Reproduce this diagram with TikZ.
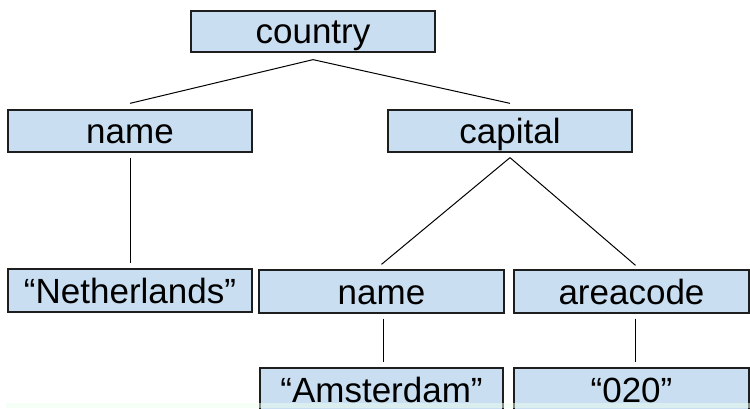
\documentclass[tikz,border=0pt]{standalone}
\usepackage{fontspec}
\setmainfont{Liberation Sans}
\usetikzlibrary{calc}
\definecolor{boxfill}{RGB}{201,222,241}
\definecolor{boxline}{RGB}{30,30,30}
\definecolor{stripgreen}{RGB}{236,255,238}
\begin{document}
\begin{tikzpicture}[x=1pt,y=1pt,
  treebox/.style={draw=boxline, line width=1.3pt, fill=boxfill, inner sep=0pt,
    minimum height=42pt, text height=25pt, text depth=0pt,
    font=\fontsize{35}{42}\selectfont},
  edge/.style={draw=black, line width=1pt}]
\clip (0,0) rectangle (750,408);
\fill[white] (0,0) rectangle (750,408);
\node[treebox, minimum width=244pt, minimum height=41pt] (country) at (313,376.5) {country};
\node[treebox, minimum width=244pt] (name1) at (130,277) {name};
\node[treebox, minimum width=244pt] (capital) at (510,277) {capital};
\node[treebox, minimum width=244pt, minimum height=43pt] (neth) at (130,117.5) {“Netherlands”};
\node[treebox, minimum width=245pt, minimum height=43pt] (name2) at (381.5,116.5) {name};
\node[treebox, minimum width=235pt, minimum height=43pt] (area) at (631.5,116.5) {areacode};
\node[treebox, minimum width=243pt, minimum height=43pt] (amst) at (381.5,18.5) {“Amsterdam”};
\node[treebox, minimum width=235pt, minimum height=43pt] (code) at (631.5,18.5) {“020”};
\draw[edge] ($(country.south)+(0,-7)$) -- ($(name1.north)+(0,6)$);
\draw[edge] ($(country.south)+(0,-7)$) -- ($(capital.north)+(0,6)$);
\draw[edge] ($(name1.south)+(0,-5)$) -- ($(neth.north)+(0,5)$);
\draw[edge] ($(capital.south)+(0,-5)$) -- ($(name2.north)+(0,5)$);
\draw[edge] ($(capital.south)+(0,-5)$) -- ($(area.north)+(4,4)$);
\draw[edge] ($(name2.south)+(1.5,-5)$) -- ($(amst.north)+(1.5,5)$);
\draw[edge] ($(area.south)+(4,-5)$) -- ($(code.north)+(4,5)$);
\fill[stripgreen, opacity=0.5] (6,0) rectangle (750,5);
\end{tikzpicture}
\end{document}
